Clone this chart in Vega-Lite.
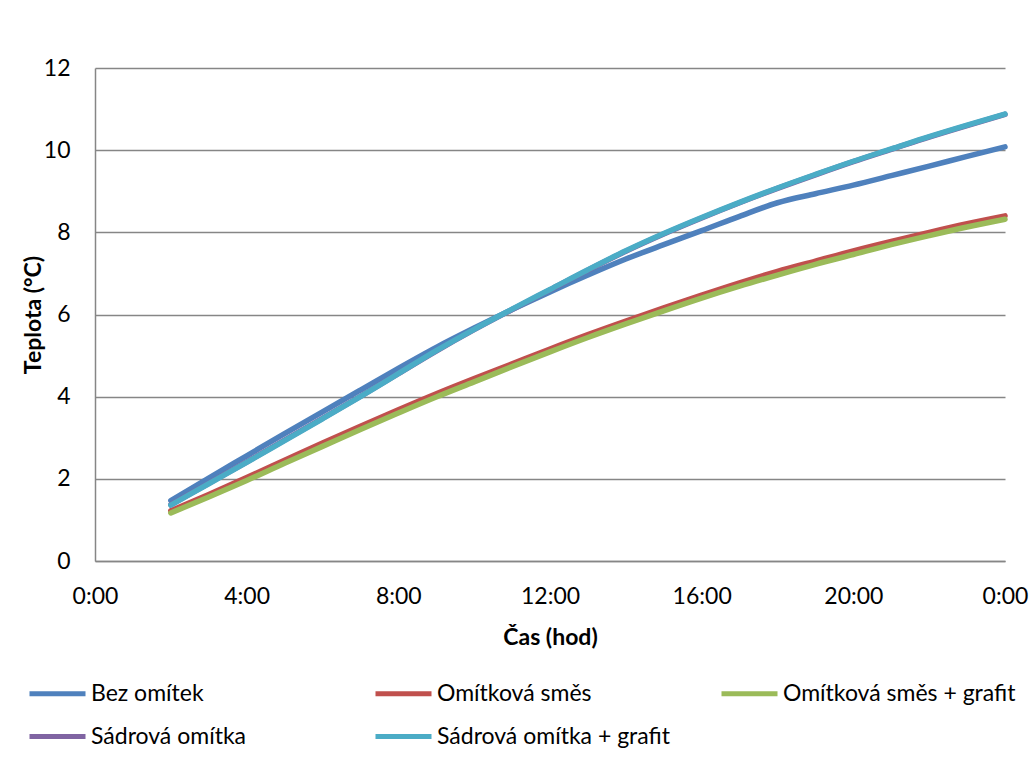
{
  "$schema": "https://vega.github.io/schema/vega-lite/v6.json",
  "width": 910,
  "height": 493,
  "autosize": {"type": "none"},
  "padding": {"left": 95, "top": 68, "right": 28, "bottom": 196},
  "background": "white",
  "config": {"view": {"stroke": null}, "font": "Lato"},
  "datasets": {
    "rows": [
      {"h": 2, "s": "Bez omítek", "t": 1.47}, {"h": 3, "s": "Bez omítek", "t": 2.02}, {"h": 4, "s": "Bez omítek", "t": 2.56}, {"h": 5, "s": "Bez omítek", "t": 3.10}, {"h": 6, "s": "Bez omítek", "t": 3.63}, {"h": 7, "s": "Bez omítek", "t": 4.16}, {"h": 8, "s": "Bez omítek", "t": 4.69}, {"h": 9, "s": "Bez omítek", "t": 5.20}, {"h": 10, "s": "Bez omítek", "t": 5.67}, {"h": 11, "s": "Bez omítek", "t": 6.12}, {"h": 12, "s": "Bez omítek", "t": 6.55}, {"h": 13, "s": "Bez omítek", "t": 6.96}, {"h": 14, "s": "Bez omítek", "t": 7.35}, {"h": 15, "s": "Bez omítek", "t": 7.70}, {"h": 16, "s": "Bez omítek", "t": 8.04}, {"h": 17, "s": "Bez omítek", "t": 8.39}, {"h": 18, "s": "Bez omítek", "t": 8.72}, {"h": 19, "s": "Bez omítek", "t": 8.94}, {"h": 20, "s": "Bez omítek", "t": 9.15}, {"h": 21, "s": "Bez omítek", "t": 9.38}, {"h": 22, "s": "Bez omítek", "t": 9.61}, {"h": 23, "s": "Bez omítek", "t": 9.85}, {"h": 24, "s": "Bez omítek", "t": 10.08},
      {"h": 2, "s": "Omítková směs", "t": 1.22}, {"h": 3, "s": "Omítková směs", "t": 1.62}, {"h": 4, "s": "Omítková směs", "t": 2.03}, {"h": 5, "s": "Omítková směs", "t": 2.45}, {"h": 6, "s": "Omítková směs", "t": 2.87}, {"h": 7, "s": "Omítková směs", "t": 3.28}, {"h": 8, "s": "Omítková směs", "t": 3.68}, {"h": 9, "s": "Omítková směs", "t": 4.07}, {"h": 10, "s": "Omítková směs", "t": 4.44}, {"h": 11, "s": "Omítková směs", "t": 4.80}, {"h": 12, "s": "Omítková směs", "t": 5.16}, {"h": 13, "s": "Omítková směs", "t": 5.51}, {"h": 14, "s": "Omítková směs", "t": 5.84}, {"h": 15, "s": "Omítková směs", "t": 6.16}, {"h": 16, "s": "Omítková směs", "t": 6.47}, {"h": 17, "s": "Omítková směs", "t": 6.77}, {"h": 18, "s": "Omítková směs", "t": 7.05}, {"h": 19, "s": "Omítková směs", "t": 7.30}, {"h": 20, "s": "Omítková směs", "t": 7.55}, {"h": 21, "s": "Omítková směs", "t": 7.78}, {"h": 22, "s": "Omítková směs", "t": 8.00}, {"h": 23, "s": "Omítková směs", "t": 8.21}, {"h": 24, "s": "Omítková směs", "t": 8.40},
      {"h": 2, "s": "Omítková směs + grafit", "t": 1.17}, {"h": 3, "s": "Omítková směs + grafit", "t": 1.56}, {"h": 4, "s": "Omítková směs + grafit", "t": 1.96}, {"h": 5, "s": "Omítková směs + grafit", "t": 2.38}, {"h": 6, "s": "Omítková směs + grafit", "t": 2.79}, {"h": 7, "s": "Omítková směs + grafit", "t": 3.20}, {"h": 8, "s": "Omítková směs + grafit", "t": 3.60}, {"h": 9, "s": "Omítková směs + grafit", "t": 3.99}, {"h": 10, "s": "Omítková směs + grafit", "t": 4.36}, {"h": 11, "s": "Omítková směs + grafit", "t": 4.73}, {"h": 12, "s": "Omítková směs + grafit", "t": 5.09}, {"h": 13, "s": "Omítková směs + grafit", "t": 5.44}, {"h": 14, "s": "Omítková směs + grafit", "t": 5.77}, {"h": 15, "s": "Omítková směs + grafit", "t": 6.09}, {"h": 16, "s": "Omítková směs + grafit", "t": 6.40}, {"h": 17, "s": "Omítková směs + grafit", "t": 6.69}, {"h": 18, "s": "Omítková směs + grafit", "t": 6.96}, {"h": 19, "s": "Omítková směs + grafit", "t": 7.22}, {"h": 20, "s": "Omítková směs + grafit", "t": 7.46}, {"h": 21, "s": "Omítková směs + grafit", "t": 7.70}, {"h": 22, "s": "Omítková směs + grafit", "t": 7.92}, {"h": 23, "s": "Omítková směs + grafit", "t": 8.13}, {"h": 24, "s": "Omítková směs + grafit", "t": 8.32},
      {"h": 2, "s": "Sádrová omítka", "t": 1.37}, {"h": 3, "s": "Sádrová omítka", "t": 1.89}, {"h": 4, "s": "Sádrová omítka", "t": 2.41}, {"h": 5, "s": "Sádrová omítka", "t": 2.94}, {"h": 6, "s": "Sádrová omítka", "t": 3.47}, {"h": 7, "s": "Sádrová omítka", "t": 4.01}, {"h": 8, "s": "Sádrová omítka", "t": 4.56}, {"h": 9, "s": "Sádrová omítka", "t": 5.11}, {"h": 10, "s": "Sádrová omítka", "t": 5.63}, {"h": 11, "s": "Sádrová omítka", "t": 6.12}, {"h": 12, "s": "Sádrová omítka", "t": 6.60}, {"h": 13, "s": "Sádrová omítka", "t": 7.08}, {"h": 14, "s": "Sádrová omítka", "t": 7.54}, {"h": 15, "s": "Sádrová omítka", "t": 7.96}, {"h": 16, "s": "Sádrová omítka", "t": 8.35}, {"h": 17, "s": "Sádrová omítka", "t": 8.72}, {"h": 18, "s": "Sádrová omítka", "t": 9.07}, {"h": 19, "s": "Sádrová omítka", "t": 9.40}, {"h": 20, "s": "Sádrová omítka", "t": 9.72}, {"h": 21, "s": "Sádrová omítka", "t": 10.02}, {"h": 22, "s": "Sádrová omítka", "t": 10.32}, {"h": 23, "s": "Sádrová omítka", "t": 10.60}, {"h": 24, "s": "Sádrová omítka", "t": 10.87},
      {"h": 2, "s": "Sádrová omítka + grafit", "t": 1.36}, {"h": 3, "s": "Sádrová omítka + grafit", "t": 1.88}, {"h": 4, "s": "Sádrová omítka + grafit", "t": 2.40}, {"h": 5, "s": "Sádrová omítka + grafit", "t": 2.93}, {"h": 6, "s": "Sádrová omítka + grafit", "t": 3.46}, {"h": 7, "s": "Sádrová omítka + grafit", "t": 4.00}, {"h": 8, "s": "Sádrová omítka + grafit", "t": 4.56}, {"h": 9, "s": "Sádrová omítka + grafit", "t": 5.12}, {"h": 10, "s": "Sádrová omítka + grafit", "t": 5.64}, {"h": 11, "s": "Sádrová omítka + grafit", "t": 6.13}, {"h": 12, "s": "Sádrová omítka + grafit", "t": 6.61}, {"h": 13, "s": "Sádrová omítka + grafit", "t": 7.09}, {"h": 14, "s": "Sádrová omítka + grafit", "t": 7.55}, {"h": 15, "s": "Sádrová omítka + grafit", "t": 7.97}, {"h": 16, "s": "Sádrová omítka + grafit", "t": 8.36}, {"h": 17, "s": "Sádrová omítka + grafit", "t": 8.73}, {"h": 18, "s": "Sádrová omítka + grafit", "t": 9.08}, {"h": 19, "s": "Sádrová omítka + grafit", "t": 9.41}, {"h": 20, "s": "Sádrová omítka + grafit", "t": 9.73}, {"h": 21, "s": "Sádrová omítka + grafit", "t": 10.03}, {"h": 22, "s": "Sádrová omítka + grafit", "t": 10.33}, {"h": 23, "s": "Sádrová omítka + grafit", "t": 10.61}, {"h": 24, "s": "Sádrová omítka + grafit", "t": 10.88}
    ]
  },
  "data": {"name": "rows"},
  "mark": {"type": "line", "interpolate": "monotone", "strokeWidth": 5.5, "strokeCap": "round", "strokeJoin": "round"},
  "encoding": {
    "x": {
      "field": "h", "type": "quantitative",
      "scale": {"domain": [0, 24], "nice": false, "zero": false},
      "axis": {
        "values": [0, 4, 8, 12, 16, 20, 24],
        "labelExpr": "(datum.value % 24) + ':00'",
        "title": "Čas (hod)",
        "grid": false, "ticks": false,
        "domainColor": "#868686", "domainWidth": 1.5,
        "labelFontSize": 23, "labelColor": "#000000", "labelPadding": 24,
        "labelFlush": false, "labelOverlap": false,
        "titleFontSize": 23, "titleFontWeight": "bold", "titleColor": "#000000",
        "titleY": 76, "titleBaseline": "middle"
      }
    },
    "y": {
      "field": "t", "type": "quantitative",
      "scale": {"domain": [0, 12], "nice": false},
      "axis": {
        "values": [0, 2, 4, 6, 8, 10, 12],
        "title": "Teplota (°C)",
        "grid": true, "gridColor": "#868686", "gridWidth": 1.5, "ticks": false,
        "domainColor": "#868686", "domainWidth": 1.5,
        "labelFontSize": 23, "labelColor": "#000000", "labelPadding": 25,
        "labelFlush": false, "labelOverlap": false,
        "titleFontSize": 23, "titleFontWeight": "bold", "titleColor": "#000000",
        "titleX": -62, "titleY": 246.5, "titleBaseline": "middle", "titleAngle": -90
      }
    },
    "color": {
      "field": "s", "type": "nominal",
      "scale": {
        "domain": ["Bez omítek", "Omítková směs", "Omítková směs + grafit", "Sádrová omítka", "Sádrová omítka + grafit"],
        "range": ["#4F81BD", "#C0504D", "#9BBB59", "#8064A2", "#4BACC6"]
      },
      "legend": {
        "orient": "none", "legendX": -68, "legendY": 595,
        "direction": "horizontal", "columns": 3, "gridAlign": "all",
        "columnPadding": 41, "rowPadding": -7,
        "symbolType": "stroke", "symbolSize": 3136, "symbolStrokeWidth": 5,
        "labelFontSize": 23, "labelColor": "#000000", "labelOffset": 3, "labelLimit": 400,
        "title": null, "padding": 0
      }
    }
  }
}
